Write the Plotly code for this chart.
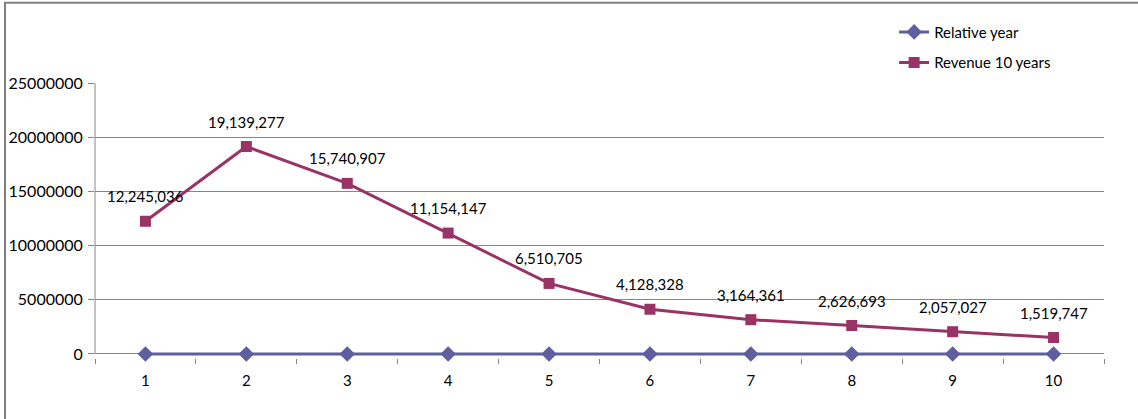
import plotly.graph_objects as go

years = ["1", "2", "3", "4", "5", "6", "7", "8", "9", "10"]
relative_year = [1, 2, 3, 4, 5, 6, 7, 8, 9, 10]
revenue = [12245036, 19139277, 15740907, 11154147, 6510705,
           4128328, 3164361, 2626693, 2057027, 1519747]
y_ticks = [0, 5000000, 10000000, 15000000, 20000000, 25000000]

blue = "#5F5FA0"
maroon = "#993366"
grey = "#868686"
font = "Lato, 'Open Sans', sans-serif"

fig = go.Figure()
fig.add_trace(go.Scatter(
    x=years, y=relative_year, name="Relative year", mode="lines+markers",
    line=dict(color=blue, width=3),
    marker=dict(symbol="diamond", size=12, color=blue),
    legendgroup="a", cliponaxis=False,
))
fig.add_trace(go.Scatter(
    x=years, y=revenue, name="Revenue 10 years", mode="lines+markers",
    line=dict(color=maroon, width=3),
    marker=dict(symbol="square", size=11, color=maroon),
    legendgroup="b", cliponaxis=False,
))

# value labels sit above each revenue marker (x given as category index)
for i, v in enumerate(revenue):
    fig.add_annotation(x=i, y=v, text=f"{v:,}", showarrow=False,
                       yshift=25, font=dict(family=font, size=15, color="#000000"))

# a few pixels below zero so the bottom series is not clipped
y_pad = 370000

fig.update_layout(
    width=1138, height=419,
    margin=dict(l=95, r=34, t=83, b=61),
    paper_bgcolor="white", plot_bgcolor="white",
    font=dict(family=font, size=15, color="#000000"),
    showlegend=True,
    legend=dict(x=0.792, y=1.245, xanchor="left", yanchor="top",
                bgcolor="rgba(0,0,0,0)", tracegroupgap=8,
                font=dict(family=font, size=15)),
    xaxis=dict(
        type="category", range=[-0.5, 9.5], tickson="boundaries",
        ticks="outside", ticklen=5, tickcolor=grey, ticklabelstandoff=12,
        showline=False, showgrid=False, zeroline=False, fixedrange=True,
        automargin=False,
    ),
    yaxis=dict(
        range=[-y_pad, 25000000], tickvals=y_ticks, ticktext=[str(v) for v in y_ticks],
        ticks="outside", ticklen=6, tickcolor=grey,
        tickfont=dict(family=font, size=16),
        showline=False, showgrid=True, gridcolor=grey, gridwidth=1,
        zeroline=True, zerolinecolor=grey, zerolinewidth=1,
        fixedrange=True, ticklabelstandoff=2, automargin=False,
    ),
    shapes=[
        dict(type="line", xref="paper", yref="y", x0=0, x1=0, y0=0, y1=25000000,
             line=dict(color=grey, width=1), layer="below"),
        dict(type="rect", xref="paper", yref="paper",
             x0=-0.0892, x1=1.2, y0=-0.4, y1=1.2915,
             line=dict(color="#808080", width=2), layer="above"),
    ],
)

fig.write_html("out.html")
